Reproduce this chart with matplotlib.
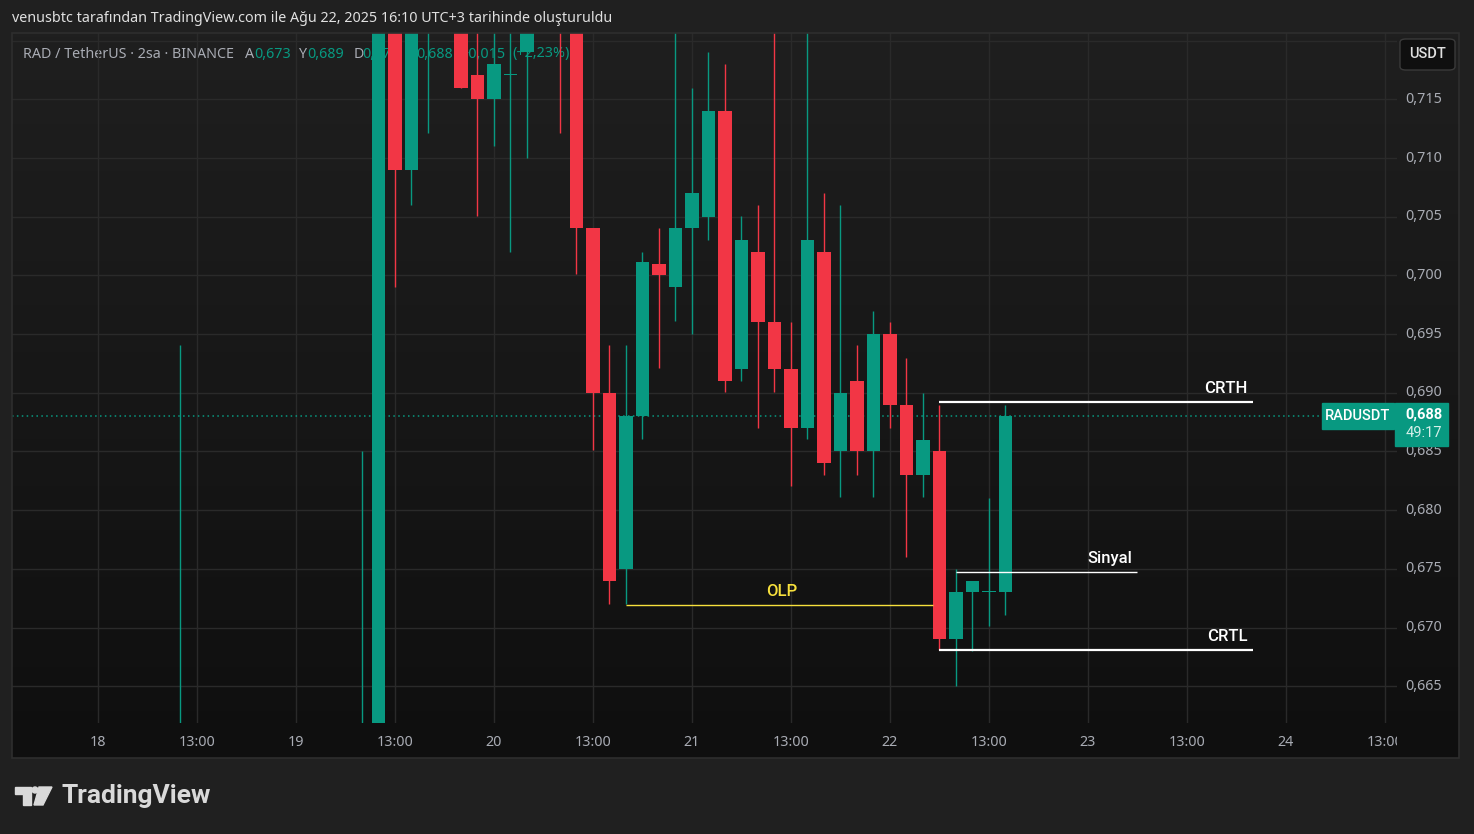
import numpy as np
import matplotlib
matplotlib.use("Agg")
import matplotlib.pyplot as plt
from matplotlib.patches import Rectangle, FancyBboxPatch, Polygon, Ellipse

plt.rcParams["font.family"] = ["Noto Sans", "DejaVu Sans"]

# RAD/USDT 2h candles. bar 0 = 18 Aug 11:00 (UTC+3); bars 1-10 lie below the visible range
bar_idx = [0, 11, 12, 13, 14, 15, 17, 18, 19, 20, 21, 23, 24, 25, 26, 27, 28, 29, 30,
           31, 32, 33, 34, 35, 36, 37, 38, 39, 40, 41, 42, 43, 44, 45, 46, 47, 48, 49, 50]
opens = [0.628, 0.640, 0.648, 0.735, 0.7090, 0.726, 0.728, 0.7171, 0.7150, 0.7171, 0.7190,
         0.728, 0.725, 0.7040, 0.6900, 0.6750, 0.6880, 0.7010, 0.6990, 0.7040, 0.7050,
         0.7140, 0.6920, 0.7020, 0.6960, 0.6920, 0.6870, 0.7020, 0.6850, 0.6910, 0.6850,
         0.6950, 0.6890, 0.6830, 0.6850, 0.6690, 0.6730, 0.6730, 0.6730]
highs = [0.6941, 0.6850, 0.740, 0.738, 0.733, 0.734, 0.731, 0.724, 0.723, 0.725, 0.730,
         0.732, 0.727, 0.7040, 0.6941, 0.6941, 0.7020, 0.7040, 0.7220, 0.7160, 0.7190,
         0.7180, 0.7051, 0.7060, 0.7225, 0.6960, 0.7230, 0.7070, 0.7060, 0.6941, 0.6970,
         0.6960, 0.6930, 0.6900, 0.6890, 0.6750, 0.6740, 0.6810, 0.6890]
lows = [0.620, 0.636, 0.645, 0.6990, 0.7060, 0.7121, 0.7160, 0.7051, 0.7110, 0.7020, 0.7100,
        0.7121, 0.7001, 0.6851, 0.6720, 0.6720, 0.6861, 0.6921, 0.6961, 0.6950, 0.7030,
        0.6901, 0.6910, 0.6870, 0.6901, 0.6821, 0.6861, 0.6830, 0.6811, 0.6830, 0.6811,
        0.6870, 0.6760, 0.6811, 0.6681, 0.6650, 0.6680, 0.6701, 0.6711]
closes = [0.635, 0.648, 0.735, 0.7090, 0.728, 0.731, 0.7160, 0.7150, 0.7180, 0.7171, 0.726,
          0.724, 0.7040, 0.6900, 0.6740, 0.6880, 0.7011, 0.7000, 0.7040, 0.7070, 0.7140,
          0.6910, 0.7030, 0.6960, 0.6920, 0.6870, 0.7030, 0.6840, 0.6900, 0.6850, 0.6950,
          0.6890, 0.6830, 0.6860, 0.6690, 0.6730, 0.6740, 0.6730, 0.6880]

x_ticks = [-5, 1, 7, 13, 19, 25, 31, 37, 43, 49, 55, 61, 67, 73]
x_labels = ["18", "13:00", "19", "13:00", "20", "13:00", "21", "13:00",
            "22", "13:00", "23", "13:00", "24", "13:00"]
price_ticks = [0.665, 0.670, 0.675, 0.680, 0.685, 0.690, 0.695, 0.700, 0.705, 0.710, 0.715]
grid_prices = price_ticks + [0.720]

# drawn levels
level_names = ["OLP", "CRTH", "CRTL", "Sinyal"]
level_prices = [0.6719, 0.6892, 0.6681, 0.6747]
level_start = [27, 46, 46, 47]
level_end = [45.6, 65, 65, 58]
level_colors = ["#f7e03c", "white", "white", "white"]
level_widths = [1.0, 1.6, 1.6, 1.0]

title = "venusbtc tarafından TradingView.com ile Ağu 22, 2025 16:10 UTC+3 tarihinde oluşturuldu"
symbol = "RAD / TetherUS · 2sa · BINANCE"
countdown = "49:17"

GREEN = "#089981"
RED = "#f23645"
TXT = "#a9acb4"
BOLD = ["Roboto", "DejaVu Sans"]
W, H = 1474, 834


def fx(x):
    return x / W


def fy(y):
    return 1 - y / H


def fmt(v, nd=3):
    return f"{v:.{nd}f}".replace(".", ",")


fig = plt.figure(figsize=(W / 100, H / 100), dpi=100, facecolor="#202020")

# pane background gradient
bg = fig.add_axes([fx(12), fy(758), (1459 - 12) / W, (758 - 33) / H], zorder=-2)
shade = np.linspace(31, 15, 200)[:, None] / 255.0
bg.imshow(np.dstack([shade, shade, shade]), aspect="auto", extent=[0, 1, 0, 1])
bg.set_axis_off()
fig.patches.append(Rectangle((fx(12), fy(758)), (1459 - 12) / W, (758 - 33) / H,
                             transform=fig.transFigure, fill=False, ec="#2e2e2e", lw=1.2))

xlim = ((12 - 180.5) / 16.5, (1397 - 180.5) / 16.5)
ylim = (0.66187, 0.72065)

ax = fig.add_axes([fx(12), fy(723), 1385 / W, 690 / H])
ax.set_facecolor("none")
ax.set_xlim(*xlim)
ax.set_ylim(*ylim)
ax.set_xticks(x_ticks)
ax.set_yticks(grid_prices)
ax.tick_params(length=0, labelbottom=False, labelleft=False)
ax.grid(True, color="#2a2a2a", lw=1)
for s in ax.spines.values():
    s.set_visible(False)

# candles
x = np.array(bar_idx)
o = np.array(opens)
h = np.array(highs)
l = np.array(lows)
c = np.array(closes)
colors = np.where(c >= o, GREEN, RED)
ax.vlines(x, l, h, colors=colors, lw=1.0, zorder=3)
body = np.maximum(np.abs(c - o), 0.00009)
ax.bar(x, body, bottom=np.minimum(o, c), width=0.79, color=colors, lw=0, zorder=4)

# last price line
ax.axhline(closes[-1], color=GREEN, lw=1.1, ls=(0, (1, 2.2)), zorder=2)

# levels
for name, p, x0, x1, col, lw in zip(level_names, level_prices, level_start, level_end,
                                    level_colors, level_widths):
    ax.plot([x0, x1], [p, p], color=col, lw=lw, zorder=5, solid_capstyle="butt")
    if name == "OLP":
        ax.annotate(name, xy=((x0 + x1) / 2, p), xytext=(2, 7), textcoords="offset points",
                    ha="center", va="baseline", color=col, fontsize=12, fontweight="medium",
                    family=BOLD, zorder=6)
    else:
        ax.annotate(name, xy=(x1, p), xytext=(-4, 6.5), textcoords="offset points",
                    ha="right", va="baseline", color=col, fontsize=12, fontweight="medium",
                    family=BOLD, zorder=6)

# header legend (drawn under the candles)
prev_close = closes[-2]
chg = closes[-1] - prev_close
pieces = [(symbol, 23, TXT), ("A", 245, TXT), (fmt(opens[-1]), 254, GREEN),
          ("Y", 298, TXT), (fmt(highs[-1]), 307, GREEN), ("D", 354, TXT),
          (fmt(lows[-1]), 362, GREEN), ("K", 407, TXT), (fmt(closes[-1]), 416, GREEN),
          ("+" + fmt(chg), 460, GREEN),
          ("(+" + fmt(chg / prev_close * 100, 2) + "%)", 512, GREEN)]
for s, px, col in pieces:
    ax.text(fx(px), fy(54), s, transform=fig.transFigure, color=col, fontsize=10.3,
            va="center", ha="left", zorder=1)

# time axis
tax = fig.add_axes([fx(12), fy(758), 1385 / W, 35 / H])
tax.set_facecolor("none")
tax.set_xlim(*xlim)
tax.set_ylim(0, 35)
tax.set_axis_off()
for t, lab in zip(x_ticks, x_labels):
    tax.text(t, 16, lab, ha="center", va="center", color=TXT, fontsize=10.3, clip_on=True)

# price axis
pax = fig.add_axes([fx(1397), fy(723), 62 / W, 690 / H])
pax.set_facecolor("none")
pax.set_xlim(0, 62)
pax.set_ylim(*ylim)
pax.set_axis_off()
for p in price_ticks:
    pax.text(8, p, fmt(p), ha="left", va="center", color=TXT, fontsize=10.3)

# price labels at the right
fig.patches.append(Rectangle((fx(1322), fy(429)), 72 / W, 26 / H, transform=fig.transFigure,
                             color=GREEN))
fig.text(fx(1358), fy(416), "RADUSDT", color="white", fontsize=10.5, fontweight="medium",
         family=BOLD, ha="center", va="center", zorder=8)
fig.patches.append(Rectangle((fx(1395), fy(446)), 53 / W, 43 / H, transform=fig.transFigure,
                             color=GREEN))
fig.text(fx(1424), fy(415), fmt(closes[-1]), color="white", fontsize=10.5, fontweight="bold",
         family=BOLD, ha="center", va="center", zorder=8)
fig.text(fx(1424), fy(433), countdown, color="#d6efe9", fontsize=10.5, family=BOLD,
         ha="center", va="center", zorder=8)

# currency button
fig.patches.append(FancyBboxPatch((fx(1400), fy(70)), 55 / W, 31 / H,
                                  boxstyle="round,pad=0,rounding_size=0.004",
                                  transform=fig.transFigure, fc="#0f0f0f", ec="#3a3a3a",
                                  lw=1))
fig.text(fx(1428), fy(54), "USDT", color="#e0e0e0", fontsize=10.5, fontweight="medium",
         family=BOLD, ha="center", va="center", zorder=8)

# title
fig.text(fx(12), fy(19), title, color="#e0e0e0", fontsize=10.3, ha="left", va="center")

# TradingView logo
logo = "#d9d9d9"
for pts in ([(15, 787), (31, 787), (31, 805), (23, 805), (23, 794), (15, 794)],
            [(39, 787), (52, 787), (43, 805), (34, 805)]):
    fig.patches.append(Polygon([(fx(a), fy(b)) for a, b in pts], closed=True,
                               transform=fig.transFigure, color=logo))
fig.patches.append(Ellipse((fx(35), fy(790)), 6 / W, 6 / H,
                           transform=fig.transFigure, color=logo))
fig.text(fx(61), fy(796), "TradingView", color=logo, fontsize=19, fontweight="bold",
         family=BOLD, ha="left", va="center")

fig.savefig("out.png", dpi=100, facecolor=fig.get_facecolor())
